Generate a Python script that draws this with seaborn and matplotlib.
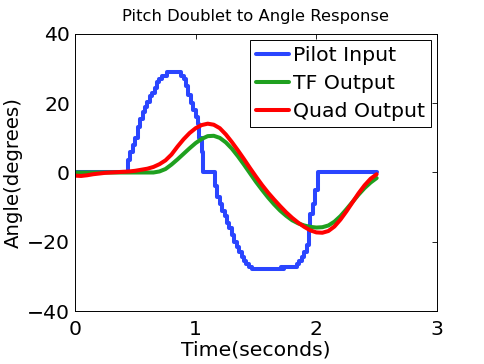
import matplotlib
matplotlib.use("Agg")
import matplotlib.pyplot as plt
import seaborn as sns
import pandas as pd

# ---- data ----
pilot_t = [0.00, 0.44, 0.46, 0.48, 0.50, 0.52, 0.54, 0.56, 0.58, 0.60, 0.62, 0.64, 0.66, 0.68,
           0.70, 0.72, 0.76, 0.88, 0.90, 0.92, 0.94, 0.96, 0.98, 1.00, 1.02, 1.03, 1.05, 1.06,
           1.16, 1.18, 1.20, 1.22, 1.24, 1.26, 1.28, 1.30, 1.32, 1.34, 1.36, 1.38, 1.40, 1.42,
           1.44, 1.47, 1.71, 1.72, 1.73, 1.84, 1.86, 1.88, 1.90, 1.92, 1.94, 1.95, 1.97, 1.99,
           2.01, 2.50]
pilot_v = [0, 3.5, 6, 8, 10, 13, 15.5, 17.5, 19, 20.5, 22, 23, 24.5, 26,
           27, 28, 29, 28, 27, 25, 22.5, 20, 18, 16, 14, 10, 6, 0,
           -4, -7, -9, -11, -12.5, -14.5, -16, -18, -20, -21.5, -23, -24.5, -25.5, -26.5,
           -27.2, -28, -27.2, -28, -27.2, -26.5, -25.5, -24.5, -23, -21, -17, -12, -9, -5,
           0, 0]

resp_t = [0.00, 0.05, 0.10, 0.15, 0.20, 0.25, 0.30, 0.35, 0.40, 0.45, 0.50, 0.55, 0.60,
          0.65, 0.70, 0.75, 0.80, 0.85, 0.90, 0.95, 1.00, 1.05, 1.10, 1.15, 1.20, 1.25,
          1.30, 1.35, 1.40, 1.45, 1.50, 1.55, 1.60, 1.65, 1.70, 1.75, 1.80, 1.85, 1.90,
          1.95, 2.00, 2.05, 2.10, 2.15, 2.20, 2.25, 2.30, 2.35, 2.40, 2.45, 2.50]
tf_v = [0.0, 0.0, 0.0, 0.0, 0.0, 0.0, 0.0, 0.0, 0.0, 0.0, 0.0, 0.0, 0.0,
        0.0, 0.3, 1.0, 2.3, 3.8, 5.4, 7.0, 8.5, 9.7, 10.5, 10.6, 10.0, 8.7,
        6.9, 4.7, 2.3, -0.2, -2.7, -5.0, -7.2, -9.2, -11.0, -12.5, -13.8, -14.7, -15.3,
        -15.7, -15.9, -15.8, -15.3, -14.2, -12.6, -10.6, -8.5, -6.4, -4.5, -2.9, -1.6]
quad_v = [-0.9, -1.0, -0.8, -0.5, -0.3, -0.1, 0.0, 0.1, 0.2, 0.3, 0.5, 0.8, 1.1,
          1.6, 2.4, 3.5, 5.2, 7.5, 9.6, 11.4, 12.8, 13.7, 14.1, 13.8, 12.8, 11.0,
          8.8, 6.4, 3.9, 1.3, -1.2, -3.6, -5.8, -7.8, -9.7, -11.5, -13.1, -14.5, -15.7,
          -16.7, -17.3, -17.4, -16.9, -15.6, -13.6, -11.2, -8.6, -6.0, -3.7, -1.8, -0.5]

series_names = ["Pilot Input", "TF Output", "Quad Output"]
colors = ["#2a45ff", "#1fa01f", "#ff0000"]
x_ticks = [0, 1, 2, 3]
y_ticks = [-40, -20, 0, 20, 40]

# ---- plot ----
sns.set_style("white")
plt.rcParams['font.family'] = ['DejaVu Sans']
plt.rcParams['text.color'] = 'black'
plt.rcParams['axes.labelcolor'] = 'black'

fig = plt.figure(figsize=(4.85, 3.64), dpi=100)
ax = fig.add_axes([0.1546, 0.1456, 0.901 - 0.1546, 0.9066 - 0.1456])

df_p = pd.DataFrame({"t": pilot_t, "v": pilot_v})
df_tf = pd.DataFrame({"t": resp_t, "v": tf_v})
df_q = pd.DataFrame({"t": resp_t, "v": quad_v})

lw = 2.9
sns.lineplot(data=df_p, x="t", y="v", ax=ax, color=colors[0], lw=lw,
             drawstyle="steps-post", label=series_names[0], estimator=None, sort=False)
sns.lineplot(data=df_tf, x="t", y="v", ax=ax, color=colors[1], lw=lw,
             label=series_names[1], estimator=None, sort=False)
sns.lineplot(data=df_q, x="t", y="v", ax=ax, color=colors[2], lw=lw,
             label=series_names[2], estimator=None, sort=False)

fs = 14.7
ax.set_xlim(0, 3)
ax.set_ylim(-40, 40)
ax.set_xticks(x_ticks)
ax.set_yticks(y_ticks)
ax.tick_params(direction="in", length=3.6, width=0.6, labelsize=fs, colors="black",
               top=True, right=True)
ax.tick_params(axis="x", pad=6.3)
ax.tick_params(axis="y", pad=3.6)
for s in ax.spines.values():
    s.set_visible(True)
    s.set_color("black")
    s.set_linewidth(0.7)

ax.set_xlabel("Time(seconds)", fontsize=fs, labelpad=1.5, color="black")
ax.set_ylabel("Angle(degrees)", fontsize=14.2, labelpad=3, color="black")
ax.set_title("Pitch Doublet to Angle Response", fontsize=11.8, pad=9.4, color="black")

leg = ax.legend(loc="upper right", fontsize=fs, frameon=True, fancybox=False,
                edgecolor="black", framealpha=1, borderpad=0.3, labelspacing=0.45,
                handlelength=1.6, handletextpad=0.2, borderaxespad=0.28)
leg.get_frame().set_linewidth(0.7)
for t in leg.get_texts():
    t.set_color("black")
for h in leg.get_lines():
    h.set_linewidth(lw)

fig.savefig("out.png", dpi=100)
